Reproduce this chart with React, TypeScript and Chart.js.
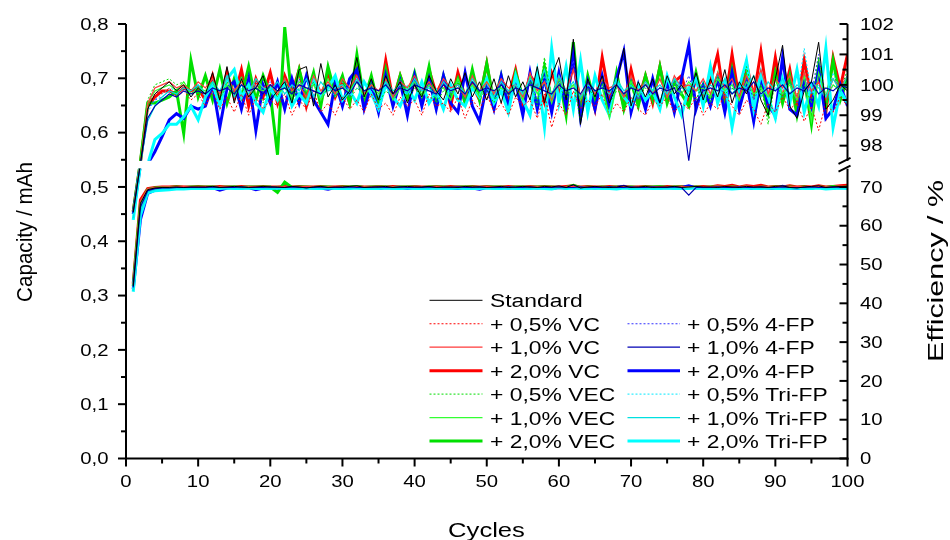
import React, { useEffect, useRef } from "react";
import { Chart, registerables } from "chart.js";

Chart.register(...registerables);

// ---------- categories & tick labels ----------
const cycles = [
  1, 2, 3, 4, 5, 6, 7, 8, 9, 10, 11, 12, 13, 14, 15, 16, 17, 18, 19, 20,
  21, 22, 23, 24, 25, 26, 27, 28, 29, 30, 31, 32, 33, 34, 35, 36, 37, 38, 39, 40,
  41, 42, 43, 44, 45, 46, 47, 48, 49, 50, 51, 52, 53, 54, 55, 56, 57, 58, 59, 60,
  61, 62, 63, 64, 65, 66, 67, 68, 69, 70, 71, 72, 73, 74, 75, 76, 77, 78, 79, 80,
  81, 82, 83, 84, 85, 86, 87, 88, 89, 90, 91, 92, 93, 94, 95, 96, 97, 98, 99, 100,
];
const cycleTicks = [0, 10, 20, 30, 40, 50, 60, 70, 80, 90, 100];
const capacityTicks = [0, 0.1, 0.2, 0.3, 0.4, 0.5, 0.6, 0.7, 0.8];
const capacityTickLabels = ["0,0", "0,1", "0,2", "0,3", "0,4", "0,5", "0,6", "0,7", "0,8"];
const effLowerTicks = [0, 10, 20, 30, 40, 50, 60, 70];
const effUpperTicks = [98, 99, 100, 101, 102];

const seriesNames = [
  "Standard",
  "+ 0,5% VC", "+ 1,0% VC", "+ 2,0% VC",
  "+ 0,5% VEC", "+ 1,0% VEC", "+ 2,0% VEC",
  "+ 0,5% 4-FP", "+ 1,0% 4-FP", "+ 2,0% 4-FP",
  "+ 0,5% Tri-FP", "+ 1,0% Tri-FP", "+ 2,0% Tri-FP",
];

// ---------- capacity (mAh) ----------
const capStandard = [
  .318,.470,.495,.498,.499,.499,.500,.499,.500,.500,
  .500,.501,.499,.500,.501,.500,.499,.500,.501,.500,
  .500,.499,.501,.500,.498,.500,.501,.499,.500,.500,
  .501,.502,.499,.500,.500,.501,.499,.500,.501,.500,
  .500,.501,.499,.500,.500,.499,.501,.500,.500,.499,
  .500,.501,.499,.500,.501,.500,.499,.501,.500,.502,
  .499,.504,.498,.500,.501,.500,.499,.500,.502,.499,
  .500,.501,.499,.500,.500,.501,.499,.500,.501,.500,
  .500,.499,.501,.500,.499,.501,.500,.500,.499,.501,
  .502,.499,.498,.500,.501,.502,.499,.500,.501,.500,
];
const capVC05 = [
  .320,.472,.496,.498,.499,.500,.500,.500,.499,.500,
  .500,.500,.501,.499,.500,.500,.501,.500,.499,.500,
  .501,.500,.500,.499,.500,.501,.500,.500,.499,.501,
  .500,.500,.501,.500,.499,.500,.500,.501,.500,.499,
  .500,.501,.500,.500,.499,.500,.501,.500,.500,.501,
  .499,.500,.500,.501,.500,.499,.500,.501,.500,.500,
  .501,.502,.499,.500,.500,.501,.500,.499,.500,.501,
  .500,.500,.501,.499,.500,.500,.501,.500,.500,.499,
  .501,.500,.502,.500,.499,.501,.500,.502,.500,.500,
  .501,.500,.499,.501,.500,.500,.501,.499,.500,.501,
];
const capVC10 = [
  .321,.474,.497,.499,.500,.500,.500,.501,.500,.500,
  .501,.500,.500,.501,.500,.499,.500,.501,.500,.500,
  .500,.501,.500,.500,.501,.500,.499,.500,.501,.500,
  .500,.501,.500,.500,.501,.500,.500,.499,.500,.501,
  .500,.500,.501,.500,.500,.501,.499,.500,.500,.501,
  .500,.501,.500,.499,.500,.501,.500,.500,.501,.500,
  .500,.501,.500,.500,.501,.500,.499,.500,.501,.500,
  .501,.500,.500,.501,.500,.500,.501,.500,.499,.501,
  .500,.502,.500,.501,.500,.502,.500,.501,.500,.500,
  .501,.500,.501,.500,.500,.501,.500,.500,.502,.500,
];
const capVC20 = [
  .322,.476,.497,.499,.500,.500,.501,.500,.500,.501,
  .500,.500,.501,.500,.500,.501,.500,.500,.501,.500,
  .500,.501,.500,.501,.500,.500,.501,.500,.500,.501,
  .500,.501,.500,.500,.501,.500,.501,.500,.500,.501,
  .500,.500,.501,.500,.501,.500,.500,.501,.500,.501,
  .500,.500,.501,.500,.500,.501,.500,.501,.500,.500,
  .501,.502,.500,.501,.500,.500,.501,.500,.501,.500,
  .500,.501,.500,.500,.501,.500,.501,.500,.500,.501,
  .500,.502,.501,.503,.500,.502,.501,.503,.500,.501,
  .500,.502,.500,.501,.500,.502,.500,.501,.502,.503,
];
const capVEC05 = [
  .319,.471,.496,.499,.500,.500,.500,.499,.500,.500,
  .500,.501,.500,.500,.499,.500,.501,.500,.500,.499,
  .500,.500,.501,.500,.500,.499,.500,.501,.500,.500,
  .499,.500,.500,.501,.500,.500,.499,.500,.501,.500,
  .500,.499,.500,.500,.501,.500,.500,.499,.500,.501,
  .500,.500,.499,.500,.501,.500,.500,.501,.499,.500,
  .500,.501,.499,.500,.500,.501,.500,.500,.499,.500,
  .501,.500,.500,.501,.500,.499,.500,.500,.501,.500,
  .500,.501,.500,.499,.500,.501,.500,.500,.499,.500,
  .501,.500,.500,.501,.499,.501,.500,.500,.501,.500,
];
const capVEC10 = [
  .318,.470,.496,.498,.499,.500,.500,.500,.499,.500,
  .500,.500,.499,.500,.501,.500,.500,.499,.500,.500,
  .501,.500,.500,.500,.499,.500,.500,.501,.500,.500,
  .500,.499,.500,.500,.501,.500,.500,.500,.499,.500,
  .500,.501,.500,.500,.500,.499,.500,.500,.501,.500,
  .500,.500,.499,.500,.500,.501,.500,.500,.500,.499,
  .500,.500,.501,.500,.500,.500,.499,.500,.500,.501,
  .500,.500,.500,.499,.500,.500,.501,.500,.500,.500,
  .499,.500,.500,.501,.500,.500,.500,.499,.500,.500,
  .501,.500,.500,.500,.499,.500,.500,.501,.500,.500,
];
const capVEC20 = [
  .317,.468,.495,.498,.499,.499,.500,.499,.500,.500,
  .500,.500,.499,.500,.500,.499,.500,.500,.500,.500,
  .490,.509,.499,.500,.500,.499,.500,.500,.499,.500,
  .500,.501,.499,.500,.500,.500,.499,.500,.500,.500,
  .499,.500,.500,.500,.499,.500,.500,.500,.499,.500,
  .500,.500,.499,.500,.500,.499,.500,.500,.500,.499,
  .499,.503,.498,.500,.499,.500,.499,.500,.499,.500,
  .499,.500,.500,.501,.499,.500,.500,.499,.500,.499,
  .500,.500,.499,.500,.499,.500,.498,.500,.499,.500,
  .499,.500,.499,.500,.498,.500,.499,.501,.499,.500,
];
const capFP05 = [
  .316,.466,.494,.497,.498,.499,.499,.499,.499,.500,
  .499,.500,.499,.499,.500,.499,.500,.499,.499,.500,
  .499,.499,.500,.499,.500,.499,.499,.500,.499,.499,
  .500,.499,.499,.500,.499,.499,.500,.499,.499,.500,
  .499,.499,.500,.499,.499,.500,.499,.499,.500,.499,
  .499,.500,.499,.499,.500,.499,.499,.500,.499,.499,
  .500,.501,.499,.499,.500,.499,.499,.500,.499,.499,
  .500,.499,.499,.500,.499,.499,.500,.499,.499,.500,
  .499,.500,.499,.499,.500,.499,.499,.500,.499,.499,
  .500,.499,.499,.500,.499,.501,.499,.499,.500,.499,
];
const capFP10 = [
  .315,.463,.493,.497,.498,.498,.499,.499,.499,.499,
  .499,.500,.499,.499,.499,.500,.499,.499,.499,.500,
  .499,.499,.500,.499,.499,.499,.500,.499,.499,.499,
  .500,.499,.499,.499,.500,.499,.499,.500,.499,.499,
  .499,.500,.499,.499,.499,.500,.499,.499,.500,.499,
  .499,.499,.500,.499,.499,.500,.499,.499,.499,.500,
  .499,.499,.500,.499,.499,.499,.500,.499,.499,.500,
  .499,.499,.500,.499,.499,.500,.499,.485,.499,.499,
  .499,.500,.499,.499,.500,.499,.499,.500,.499,.499,
  .500,.499,.499,.499,.500,.499,.499,.500,.499,.499,
];
const capFP20 = [
  .312,.440,.488,.494,.496,.497,.497,.498,.498,.498,
  .498,.499,.494,.498,.499,.498,.499,.495,.498,.499,
  .498,.499,.498,.499,.498,.499,.498,.496,.499,.498,
  .499,.499,.498,.499,.497,.499,.498,.499,.497,.499,
  .498,.499,.498,.499,.498,.497,.499,.498,.496,.499,
  .498,.499,.498,.499,.497,.499,.498,.499,.497,.499,
  .498,.501,.497,.499,.498,.499,.498,.499,.501,.497,
  .499,.498,.499,.498,.499,.498,.499,.502,.498,.499,
  .498,.499,.497,.499,.498,.499,.497,.499,.498,.497,
  .501,.498,.497,.499,.498,.500,.497,.498,.499,.498,
];
const capTri05 = [
  .310,.460,.492,.496,.497,.498,.498,.498,.499,.499,
  .499,.499,.498,.499,.499,.498,.499,.499,.499,.498,
  .499,.499,.498,.499,.499,.499,.498,.499,.499,.498,
  .499,.499,.499,.498,.499,.499,.498,.499,.499,.499,
  .498,.499,.499,.498,.499,.499,.499,.498,.499,.499,
  .498,.499,.499,.499,.498,.499,.499,.500,.498,.499,
  .499,.499,.498,.499,.499,.498,.499,.499,.499,.498,
  .499,.499,.498,.499,.499,.499,.498,.499,.499,.498,
  .499,.500,.499,.498,.499,.499,.498,.499,.499,.499,
  .498,.499,.499,.501,.498,.499,.499,.499,.498,.499,
];
const capTri10 = [
  .309,.455,.491,.495,.497,.497,.498,.498,.498,.498,
  .498,.499,.498,.498,.499,.498,.498,.499,.498,.498,
  .498,.499,.498,.498,.498,.499,.498,.498,.499,.498,
  .498,.498,.499,.498,.498,.499,.498,.498,.498,.499,
  .498,.498,.499,.498,.498,.498,.499,.498,.498,.499,
  .498,.498,.498,.499,.498,.498,.499,.499,.498,.498,
  .498,.499,.498,.498,.499,.498,.498,.498,.499,.498,
  .498,.499,.498,.498,.498,.499,.498,.498,.499,.498,
  .498,.498,.499,.498,.498,.499,.498,.498,.498,.499,
  .498,.498,.499,.498,.498,.499,.498,.499,.498,.498,
];
const capTri20 = [
  .307,.448,.489,.493,.494,.495,.496,.496,.497,.497,
  .497,.497,.497,.498,.497,.497,.498,.497,.497,.497,
  .498,.497,.497,.497,.498,.497,.497,.498,.497,.497,
  .497,.498,.497,.497,.497,.498,.497,.497,.498,.497,
  .497,.497,.498,.497,.497,.498,.497,.497,.497,.498,
  .497,.497,.498,.497,.497,.497,.498,.497,.496,.499,
  .497,.498,.497,.497,.498,.497,.497,.496,.498,.497,
  .497,.498,.497,.497,.498,.497,.497,.497,.498,.497,
  .497,.498,.497,.496,.497,.498,.497,.497,.498,.497,
  .497,.497,.498,.497,.497,.498,.496,.497,.498,.497,
];

// ---------- efficiency (%) ----------
const effStandard = [
  63.5, 90, 99.2, 99.7, 99.9, 100.1, 99.8, 100.0, 99.6, 99.9,
  99.7, 100.4, 99.5, 100.6, 99.4, 100.2, 99.6, 99.9, 100.3, 99.5,
  99.8, 100.1, 99.4, 100.5, 100.6, 99.3, 100.7, 99.6, 100.0, 99.5,
  99.8, 100.9, 99.6, 100.2, 99.5, 100.3, 99.7, 100.1, 99.4, 100.0,
  99.6, 100.3, 99.8, 99.5, 100.2, 99.7, 100.4, 99.6, 100.1, 99.5,
  100.2, 99.4, 100.3, 99.6, 100.1, 99.5, 100.6, 99.4, 100.3, 100.9,
  99.5, 101.5, 98.7, 100.2, 99.6, 100.3, 99.4, 100.0, 101.2, 99.3,
  100.1, 99.6, 100.2, 99.4, 100.3, 99.7, 100.0, 99.6, 100.4, 99.5,
  100.2, 99.6, 100.5, 99.4, 100.1, 99.7, 100.3, 99.5, 99.0, 100.2,
  101.3, 99.3, 98.9, 99.8, 100.1, 101.4, 99.2, 99.5, 100.0, 99.8,
];
const effVC05 = [
  64.0, 92, 99.3, 99.8, 99.7, 99.9, 99.6, 99.8, 99.5, 99.7,
  99.3, 99.8, 99.2, 99.6, 99.1, 99.7, 99.0, 99.6, 99.2, 99.5,
  99.3, 99.7, 99.0, 99.5, 99.2, 99.8, 99.1, 99.4, 99.0, 99.6,
  99.2, 99.5, 99.1, 99.7, 99.2, 99.4, 99.0, 99.6, 99.3, 99.5,
  99.0, 99.7, 99.3, 99.4, 99.1, 99.6, 98.9, 99.5, 99.2, 99.7,
  99.1, 99.4, 99.0, 99.6, 99.3, 99.5, 98.9, 99.7, 98.6, 99.4,
  99.0, 99.8, 99.2, 99.5, 99.3, 99.7, 99.0, 99.4, 99.1, 99.6,
  99.2, 99.0, 99.5, 99.3, 99.6, 99.1, 99.4, 99.2, 99.6, 99.0,
  99.4, 99.2, 99.7, 99.3, 99.0, 99.5, 99.2, 98.7, 99.4, 99.1,
  99.6, 99.2, 99.4, 98.8, 99.3, 98.5, 99.4, 99.1, 99.6, 99.3,
];
const effVC10 = [
  63.8, 91, 99.4, 99.9, 100.0, 100.1, 99.9, 100.0, 99.8, 100.1,
  99.9, 100.2, 99.7, 100.3, 99.8, 100.1, 99.6, 100.2, 99.9, 100.0,
  99.7, 100.2, 99.8, 100.0, 99.6, 100.3, 99.8, 100.1, 99.7, 100.2,
  99.9, 100.3, 99.7, 100.0, 99.8, 100.2, 99.6, 100.1, 99.9, 100.3,
  99.8, 100.1, 99.7, 100.2, 99.9, 100.0, 99.6, 100.3, 99.8, 100.1,
  99.7, 100.2, 99.9, 100.0, 99.6, 100.4, 99.8, 100.1, 99.5, 100.3,
  99.8, 100.5, 99.6, 100.1, 99.7, 100.2, 99.9, 100.0, 99.6, 100.3,
  99.8, 100.1, 99.7, 100.2, 99.6, 100.3, 99.9, 100.0, 99.8, 100.2,
  99.7, 100.4, 99.9, 100.2, 99.6, 100.3, 99.8, 100.5, 99.7, 100.2,
  99.9, 100.3, 99.6, 100.4, 99.8, 100.1, 99.5, 100.2, 99.9, 100.3,
];
const effVC20 = [
  63.6, 93, 99.3, 99.6, 99.8, 99.8, 99.7, 99.9, 99.8, 99.9,
  99.5, 100.3, 99.4, 100.4, 99.6, 100.5, 99.3, 100.2, 99.6, 100.4,
  99.4, 100.3, 99.7, 100.5, 99.3, 100.2, 99.5, 100.4, 99.6, 100.1,
  99.4, 100.6, 99.5, 100.2, 99.3, 100.8, 99.5, 100.3, 99.6, 100.1,
  99.4, 100.5, 99.7, 100.2, 99.3, 100.4, 99.6, 100.0, 99.5, 100.7,
  99.3, 100.2, 99.6, 100.5, 99.4, 100.3, 100.0, 99.4, 100.4, 99.8,
  99.5, 100.7, 99.4, 100.1, 99.2, 100.9, 99.6, 100.2, 99.3, 100.5,
  99.5, 100.3, 99.4, 100.6, 99.5, 100.1, 100.3, 99.4, 100.2, 99.6,
  100.1, 101.0, 99.4, 101.0, 99.5, 100.7, 99.6, 101.1, 99.4, 100.9,
  99.5, 100.5, 99.2, 100.8, 99.6, 100.3, 99.1, 100.9, 99.9, 101.0,
];
const effVEC05 = [
  64.2, 94, 99.5, 100.0, 100.1, 100.2, 100.0, 100.1, 99.8, 100.0,
  99.7, 100.2, 99.5, 100.1, 99.6, 100.3, 99.8, 99.9, 99.4, 100.0,
  99.6, 100.2, 99.5, 99.9, 99.7, 100.1, 99.4, 100.0, 99.6, 100.2,
  99.5, 99.9, 99.7, 100.1, 99.4, 99.8, 99.6, 100.2, 99.5, 99.9,
  99.6, 100.1, 99.4, 99.8, 99.7, 100.0, 99.5, 100.2, 99.6, 99.8,
  99.4, 100.0, 99.7, 99.9, 99.5, 100.2, 99.3, 100.9, 99.6, 100.0,
  99.5, 100.1, 98.8, 99.9, 99.6, 100.2, 99.4, 99.8, 99.7, 100.1,
  99.6, 99.9, 99.5, 100.4, 99.7, 100.0, 99.6, 99.8, 99.5, 100.1,
  99.4, 100.3, 99.7, 99.9, 99.5, 100.6, 99.6, 100.0, 98.7, 100.2,
  99.5, 100.1, 99.7, 100.0, 99.4, 100.9, 99.6, 100.2, 99.8, 100.5,
];
const effVEC10 = [
  63.9, 92, 99.4, 99.8, 99.9, 100.0, 99.8, 100.1, 99.7, 99.9,
  99.8, 100.1, 99.6, 100.0, 99.7, 100.2, 99.6, 99.9, 99.8, 100.0,
  99.7, 99.9, 99.6, 100.1, 99.8, 100.0, 99.5, 100.2, 99.7, 99.9,
  99.8, 100.1, 99.6, 100.0, 99.7, 100.2, 99.5, 99.9, 99.8, 100.1,
  99.6, 100.0, 99.8, 99.9, 99.5, 100.2, 99.7, 100.0, 99.6, 100.1,
  99.8, 99.9, 99.7, 100.0, 99.5, 100.3, 99.7, 100.1, 99.4, 100.2,
  99.7, 100.0, 99.5, 100.1, 99.8, 99.9, 98.9, 100.0, 99.6, 100.1,
  99.7, 100.0, 99.8, 100.2, 99.6, 99.9, 99.7, 100.1, 99.8, 99.9,
  99.6, 100.2, 99.8, 100.0, 99.5, 100.1, 99.7, 99.9, 99.6, 100.2,
  99.7, 100.0, 99.5, 100.3, 98.8, 100.4, 99.6, 100.0, 99.8, 100.1,
];
const effVEC20 = [
  63.7, 96, 99.4, 99.4, 99.5, 99.6, 99.8, 98.4, 100.8, 99.6,
  100.3, 99.5, 100.5, 99.4, 100.2, 99.6, 100.6, 99.5, 100.3, 99.7,
  97.7, 101.9, 99.5, 100.5, 99.6, 100.4, 99.3, 100.6, 99.7, 100.3,
  99.4, 101.0, 99.5, 100.3, 99.3, 100.5, 99.4, 100.3, 99.6, 100.4,
  99.5, 100.6, 99.3, 100.3, 99.6, 100.2, 99.4, 100.5, 99.5, 100.7,
  99.4, 100.3, 99.2, 100.4, 99.6, 100.2, 99.3, 100.6, 99.5, 100.3,
  99.0, 101.4, 99.0, 100.3, 99.4, 100.2, 99.1, 100.4, 99.2, 100.1,
  99.3, 100.3, 99.5, 100.6, 99.4, 100.1, 99.7, 99.3, 100.4, 99.4,
  99.6, 100.3, 99.2, 100.5, 99.3, 100.3, 98.9, 100.1, 99.1, 100.4,
  99.4, 100.3, 99.0, 100.2, 98.7, 100.6, 99.3, 100.8, 99.5, 100.2,
];
const effFP05 = [
  63.5, 90, 99.2, 99.5, 99.6, 99.8, 99.7, 99.9, 99.6, 100.0,
  99.7, 100.1, 99.6, 99.9, 99.8, 100.2, 99.5, 100.0, 99.7, 100.1,
  99.8, 99.9, 99.6, 100.2, 99.7, 100.0, 99.5, 100.1, 99.8, 99.9,
  99.6, 100.3, 99.7, 100.0, 99.8, 100.1, 99.5, 100.2, 99.7, 99.9,
  99.8, 100.0, 99.6, 100.2, 99.7, 99.9, 99.5, 100.3, 99.8, 100.0,
  99.6, 100.2, 99.7, 99.9, 99.8, 100.1, 99.5, 100.0, 99.7, 100.2,
  99.6, 100.8, 99.5, 100.0, 99.8, 100.1, 99.6, 99.9, 99.7, 100.2,
  99.5, 100.0, 99.8, 99.9, 99.6, 100.1, 99.7, 100.3, 99.5, 100.0,
  99.8, 100.1, 99.6, 99.9, 99.7, 100.2, 99.5, 100.0, 99.8, 99.9,
  99.6, 100.1, 99.4, 100.3, 99.7, 101.0, 99.5, 100.0, 99.8, 100.1,
];
const effFP10 = [
  63.4, 89, 98.9, 99.3, 99.5, 99.7, 99.6, 99.8, 99.7, 99.8,
  99.7, 99.9, 99.8, 99.9, 99.7, 100.0, 99.8, 99.9, 99.7, 100.0,
  99.8, 99.9, 99.7, 100.0, 99.9, 99.8, 99.7, 100.0, 99.8, 99.9,
  99.7, 100.1, 99.8, 99.9, 99.8, 100.0, 99.7, 99.9, 99.8, 100.0,
  99.9, 99.8, 99.7, 100.0, 99.8, 99.9, 99.7, 100.1, 99.8, 99.9,
  99.8, 100.0, 99.7, 99.9, 99.8, 100.0, 99.9, 99.8, 99.7, 100.0,
  99.8, 99.9, 99.7, 100.1, 99.8, 99.9, 99.8, 100.0, 99.7, 99.9,
  99.8, 100.0, 99.7, 99.9, 99.8, 99.9, 99.3, 97.5, 99.4, 99.8,
  99.9, 99.8, 100.0, 99.7, 99.9, 99.8, 100.1, 99.7, 99.9, 99.8,
  100.0, 99.7, 99.9, 99.8, 100.1, 99.7, 99.9, 99.8, 100.0, 99.9,
];
const effFP20 = [
  63.0, 86, 88, 97.8, 98.3, 98.85, 99.05, 98.9, 99.3, 99.2,
  99.3, 100.0, 98.6, 99.9, 100.1, 99.2, 100.2, 98.5, 100.0, 99.4,
  100.1, 99.2, 100.2, 99.4, 100.3, 99.5, 99.1, 98.7, 100.1, 99.3,
  100.2, 100.5, 99.2, 100.0, 99.1, 100.3, 99.3, 100.1, 99.0, 100.3,
  99.3, 100.2, 99.2, 100.3, 99.4, 99.1, 100.4, 99.3, 98.8, 100.0,
  99.2, 100.3, 99.3, 100.1, 99.0, 100.4, 99.2, 100.2, 99.1, 100.4,
  99.3, 101.0, 98.9, 100.1, 99.2, 100.3, 99.3, 100.2, 101.1, 99.1,
  100.0, 99.2, 100.2, 99.3, 100.1, 99.1, 100.2, 101.3, 99.2, 100.0,
  99.3, 100.2, 99.1, 100.4, 99.2, 100.1, 98.8, 100.3, 99.3, 99.0,
  100.9, 99.2, 99.0, 100.1, 99.3, 100.5, 98.9, 99.2, 100.0, 99.3,
];
const effTri05 = [
  62.5, 90, 99.1, 99.5, 99.7, 99.9, 99.8, 100.0, 99.7, 99.9,
  99.6, 100.0, 99.8, 100.2, 99.7, 99.9, 99.6, 100.1, 99.8, 100.0,
  99.7, 100.1, 99.6, 99.9, 99.8, 100.2, 99.7, 100.0, 99.6, 100.1,
  99.8, 99.9, 99.7, 100.0, 99.6, 100.2, 99.8, 99.9, 99.7, 100.1,
  99.6, 100.0, 99.8, 99.9, 99.7, 100.1, 99.6, 100.0, 99.8, 99.9,
  99.7, 100.2, 99.6, 99.9, 99.8, 100.0, 99.7, 100.3, 99.5, 100.1,
  99.8, 100.0, 99.6, 100.1, 99.7, 99.9, 99.8, 100.2, 99.6, 100.0,
  99.7, 100.1, 99.8, 99.9, 99.6, 100.2, 99.7, 100.0, 99.8, 100.1,
  99.6, 100.3, 99.7, 100.0, 99.8, 99.9, 99.6, 100.2, 99.7, 100.0,
  99.8, 100.1, 99.6, 101.2, 99.7, 100.0, 99.5, 100.4, 99.8, 100.1,
];
const effTri10 = [
  62.0, 88, 98.8, 99.3, 99.6, 99.8, 99.7, 99.9, 99.8, 100.0,
  99.7, 100.1, 99.8, 100.3, 99.6, 100.0, 99.7, 100.2, 99.9, 99.8,
  100.1, 99.7, 100.0, 99.8, 100.2, 99.6, 100.1, 99.8, 99.9, 100.0,
  99.7, 100.2, 99.8, 99.9, 99.6, 100.1, 99.8, 100.0, 99.7, 100.2,
  99.8, 99.9, 99.6, 100.1, 99.8, 100.0, 99.7, 100.2, 99.8, 99.9,
  99.6, 100.1, 99.8, 100.0, 99.7, 100.2, 99.9, 100.5, 99.6, 100.3,
  99.8, 100.1, 99.6, 100.0, 99.8, 99.9, 99.7, 100.2, 99.8, 100.0,
  99.6, 100.1, 99.8, 100.0, 99.7, 100.2, 99.9, 99.8, 100.1, 99.7,
  100.0, 99.8, 100.2, 99.7, 100.0, 99.9, 100.3, 99.6, 100.1, 99.8,
  100.2, 99.7, 100.0, 99.8, 100.1, 99.9, 99.6, 100.2, 99.8, 100.3,
];
const effTri20 = [
  61.5, 85, 87, 98.2, 98.4, 98.7, 98.7, 98.95, 99.3, 98.85,
  99.6, 100.0, 99.3, 100.2, 100.5, 99.6, 100.0, 99.4, 99.1, 99.9,
  99.5, 100.1, 99.3, 99.7, 99.4, 100.2, 99.6, 99.9, 100.3, 99.5,
  99.8, 99.4, 100.1, 99.7, 99.2, 100.0, 99.6, 99.3, 99.9, 99.5,
  100.1, 99.4, 99.8, 99.2, 100.0, 99.5, 99.3, 99.9, 99.6, 100.2,
  99.4, 99.8, 99.1, 100.3, 99.5, 99.0, 100.4, 98.6, 101.2, 99.4,
  100.6, 99.2, 100.8, 99.1, 100.3, 99.5, 99.0, 100.1, 99.6, 99.3,
  100.0, 99.5, 99.8, 99.2, 100.3, 99.6, 99.0, 99.9, 100.2, 99.3,
  100.6, 99.4, 100.1, 98.6, 99.9, 100.8, 99.2, 100.4, 99.6, 98.9,
  100.2, 99.4, 100.5, 99.1, 100.0, 99.3, 101.2, 98.6, 99.8, 99.4,
];

const capacitySeries = [
  capStandard, capVC05, capVC10, capVC20, capVEC05, capVEC10, capVEC20,
  capFP05, capFP10, capFP20, capTri05, capTri10, capTri20,
];
const efficiencySeries = [
  effStandard, effVC05, effVC10, effVC20, effVEC05, effVEC10, effVEC20,
  effFP05, effFP10, effFP20, effTri05, effTri10, effTri20,
];

// ---------- styles ----------
const seriesStyles = [
  { color: "#000000", width: 1, dash: [] as number[], order: 0 },
  { color: "#ff0000", width: 1, dash: [2, 2], order: 5 },
  { color: "#ff3a3a", width: 1.2, dash: [], order: 3 },
  { color: "#ff0000", width: 3, dash: [], order: 12 },
  { color: "#00dd00", width: 1, dash: [2, 2], order: 6 },
  { color: "#33ff33", width: 1.2, dash: [], order: 4 },
  { color: "#00e000", width: 3, dash: [], order: 11 },
  { color: "#3333ff", width: 1, dash: [2, 2], order: 7 },
  { color: "#0000b4", width: 1.2, dash: [], order: 1 },
  { color: "#0000ff", width: 3, dash: [], order: 10 },
  { color: "#00e8ff", width: 1, dash: [2, 2], order: 8 },
  { color: "#00e0e0", width: 1.2, dash: [], order: 2 },
  { color: "#00ffff", width: 3, dash: [], order: 9 },
];

// ---------- broken right axis mapping (efficiency % -> shared axis units) ----------
const LOWER_MAX_PCT = 74.7;
const UPPER_MIN_PCT = 97.5;
const GAP_LOW = (LOWER_MAX_PCT * 0.5) / 70;
const GAP_HIGH = 0.8 - (102 - UPPER_MIN_PCT) * 0.056;
function effToAxis(e: number): number {
  if (e <= LOWER_MAX_PCT) return (e * 0.5) / 70;
  if (e >= UPPER_MIN_PCT) return 0.8 - (102 - e) * 0.056;
  return GAP_LOW + ((e - LOWER_MAX_PCT) / (UPPER_MIN_PCT - LOWER_MAX_PCT)) * (GAP_HIGH - GAP_LOW);
}

const FONT = '"Liberation Sans", Arial, Helvetica, sans-serif';

function drawText(ctx: CanvasRenderingContext2D, text: string, x: number, y: number, size: number, sx: number, align: "left" | "right" | "center") {
  ctx.save();
  ctx.font = `${size}px ${FONT}`;
  ctx.fillStyle = "#000";
  ctx.textBaseline = "alphabetic";
  ctx.textAlign = "left";
  const w = ctx.measureText(text).width * sx;
  const left = align === "left" ? x : align === "right" ? x - w : x - w / 2;
  ctx.translate(left, y);
  ctx.scale(sx, 1);
  ctx.fillText(text, 0, 0);
  ctx.restore();
}

function drawRotated(ctx: CanvasRenderingContext2D, text: string, cx: number, cy: number, size: number, length: number, thick: number) {
  ctx.save();
  ctx.font = `${size}px ${FONT}`;
  ctx.fillStyle = "#000";
  const w = ctx.measureText(text).width;
  ctx.translate(cx, cy);
  ctx.rotate(-Math.PI / 2);
  ctx.scale(length / w, thick);
  ctx.textAlign = "center";
  ctx.textBaseline = "middle";
  ctx.fillText(text, 0, 0);
  ctx.restore();
}

const axesPlugin = {
  id: "brokenAxes",
  beforeDatasetsDraw(chart: any) {
    const { ctx, chartArea: ca, scales } = chart;
    const gHi = scales.y2.getPixelForValue(GAP_HIGH);
    const gLo = scales.y2.getPixelForValue(GAP_LOW);
    ctx.save();
    ctx.beginPath();
    ctx.rect(ca.left, ca.top - 2, ca.right - ca.left, gHi - ca.top + 2);
    ctx.rect(ca.left, gLo, ca.right - ca.left, ca.bottom - gLo);
    ctx.clip();
  },
  afterDatasetsDraw(chart: any) {
    chart.ctx.restore();
  },
  afterDraw(chart: any) {
    const { ctx, chartArea: ca, scales } = chart;
    const xs = scales.x, yl = scales.y, yr = scales.y2;
    const L = ca.left, R = ca.right, T = ca.top, B = ca.bottom;
    const gHi = yr.getPixelForValue(GAP_HIGH);
    const gLo = yr.getPixelForValue(GAP_LOW);
    ctx.save();
    ctx.strokeStyle = "#000";
    ctx.lineWidth = 2;
    ctx.lineCap = "butt";
    const seg = (x1: number, y1: number, x2: number, y2: number) => {
      ctx.beginPath();
      ctx.moveTo(x1, y1);
      ctx.lineTo(x2, y2);
      ctx.stroke();
    };
    // axis lines
    seg(L, T, L, B + 1);
    seg(L - 1, B, R + 1, B);
    seg(R, T, R, gHi);
    seg(R, gLo, R, B + 1);
    // break marks
    seg(R - 9, gHi + 3, R + 3, gHi - 3);
    seg(R - 9, gLo + 3, R + 3, gLo - 3);

    const tickSize = 16;
    const tickScale = 1.27;
    // left ticks
    capacityTicks.forEach((v, i) => {
      const p = yl.getPixelForValue(v);
      seg(L - 8, p, L, p);
      if (i < capacityTicks.length - 1) {
        const m = yl.getPixelForValue((v + capacityTicks[i + 1]) / 2);
        seg(L - 5, m, L, m);
      }
      drawText(ctx, capacityTickLabels[i], 108.5, p + 5.7, tickSize, tickScale, "right");
    });
    // bottom ticks
    cycleTicks.forEach((v, i) => {
      const p = xs.getPixelForValue(v);
      seg(p, B, p, B + 8);
      if (i < cycleTicks.length - 1) {
        const m = xs.getPixelForValue((v + cycleTicks[i + 1]) / 2);
        seg(m, B, m, B + 5);
      }
      drawText(ctx, String(v), p, 486.5, tickSize, tickScale, "center");
    });
    // right ticks: lower segment
    effLowerTicks.forEach((v, i) => {
      const p = yr.getPixelForValue(effToAxis(v));
      seg(R - 8, p, R, p);
      if (i < effLowerTicks.length - 1) {
        const m = yr.getPixelForValue(effToAxis((v + effLowerTicks[i + 1]) / 2));
        seg(R - 5, m, R, m);
      }
      drawText(ctx, String(v), 860, p + 5.7, tickSize, tickScale, "left");
    });
    // right ticks: upper segment
    effUpperTicks.forEach((v, i) => {
      const p = yr.getPixelForValue(effToAxis(v));
      seg(R - 8, p, R, p);
      if (i < effUpperTicks.length - 1) {
        const m = yr.getPixelForValue(effToAxis((v + effUpperTicks[i + 1]) / 2));
        seg(R - 5, m, R, m);
      }
      drawText(ctx, String(v), 860, p + 5.7, tickSize, tickScale, "left");
    });

    // axis titles
    drawText(ctx, "Cycles", 486.5, 536.5, 20, 1.28, "center");
    drawRotated(ctx, "Capacity / mAh", 25.5, 232, 19, 140, 1.15);
    drawRotated(ctx, "Efficiency / %", 936.5, 271, 22, 182, 1.0);

    // legend
    const rowY0 = 300.3, rowStep = 23.45;
    const cols = [
      { x1: 429.5, x2: 482.5, tx: 490 },
      { x1: 627.5, x2: 680, tx: 687 },
    ];
    seriesNames.forEach((name, i) => {
      const col = i <= 6 ? 0 : 1;
      const row = i <= 6 ? i : i - 6;
      const y = rowY0 + row * rowStep;
      const c = cols[col];
      const st = seriesStyles[i];
      ctx.save();
      ctx.strokeStyle = st.color;
      ctx.lineWidth = st.width;
      ctx.setLineDash(st.dash);
      ctx.beginPath();
      ctx.moveTo(c.x1, y);
      ctx.lineTo(c.x2, y);
      ctx.stroke();
      ctx.restore();
      drawText(ctx, name, c.tx, y + 7, 18, 1.27, "left");
    });
    ctx.restore();
  },
};

export default function App() {
  const ref = useRef<HTMLCanvasElement>(null);
  useEffect(() => {
    if (!ref.current) return;
    const datasets: any[] = [];
    seriesNames.forEach((name, i) => {
      const st = seriesStyles[i];
      const common = {
        borderColor: st.color,
        backgroundColor: st.color,
        borderWidth: st.width,
        borderDash: st.dash,
        pointRadius: 0,
        pointHoverRadius: 0,
        tension: 0,
        fill: false,
        order: st.order,
      };
      datasets.push({ ...common, label: name + " capacity", data: capacitySeries[i], yAxisID: "y" });
      datasets.push({ ...common, label: name + " efficiency", data: efficiencySeries[i].map(effToAxis), yAxisID: "y2" });
    });
    const chart = new Chart(ref.current, {
      type: "line",
      data: { labels: cycles, datasets },
      options: {
        responsive: false,
        animation: false,
        devicePixelRatio: 1,
        events: [],
        layout: { padding: { top: 24, left: 0, right: 0, bottom: 0 } },
        plugins: { legend: { display: false }, tooltip: { enabled: false }, title: { display: false } },
        scales: {
          x: {
            type: "linear",
            min: 0,
            max: 100,
            ticks: { display: false },
            grid: { display: false },
            border: { display: false },
            afterFit: (s: any) => { s.height = 81.5; },
          },
          y: {
            position: "left",
            min: 0,
            max: 0.8,
            ticks: { display: false },
            grid: { display: false },
            border: { display: false },
            afterFit: (s: any) => { s.width = 126; },
          },
          y2: {
            position: "right",
            min: 0,
            max: 0.8,
            ticks: { display: false },
            grid: { display: false },
            border: { display: false },
            afterFit: (s: any) => { s.width = 102.5; },
          },
        },
      } as any,
      plugins: [axesPlugin],
    });
    return () => chart.destroy();
  }, []);
  return (
    <div style={{ position: "fixed", left: 0, top: 0, width: 950, height: 540, background: "#fff" }}>
      <canvas ref={ref} width={950} height={540} style={{ display: "block", width: 950, height: 540 }} />
    </div>
  );
}
